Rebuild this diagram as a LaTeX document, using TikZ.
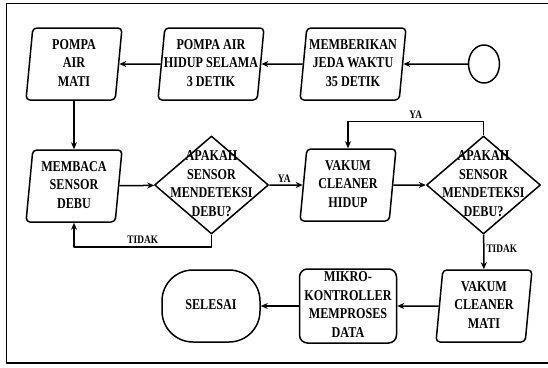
\documentclass[tikz,border=0pt]{standalone}
\usepackage{fontspec}
\setmainfont[FakeStretch=0.81]{Liberation Serif}
\usetikzlibrary{shapes.geometric,arrows.meta}
\newcommand{\boxtxt}[1]{\makebox[0pt]{\begin{tabular}{@{}c@{}}#1\end{tabular}}}

\begin{document}
\begin{tikzpicture}[x=1pt,y=-1pt,line join=round,>={Stealth[length=7pt,width=6pt]},
    big/.style={font=\bfseries\fontsize{15}{18.5}\selectfont},
    io/.style={big,trapezium,trapezium left angle=83,trapezium right angle=97,trapezium stretches body=true,draw,line width=1.5pt,rounded corners=4pt,inner sep=0pt,minimum width=96pt,minimum height=72pt},
    dec/.style={big,diamond,draw,line width=1.5pt,inner sep=0pt,minimum width=114pt,minimum height=98pt},
    proc/.style={big,rectangle,draw,line width=1.5pt,rounded corners=8pt,inner sep=0pt,minimum width=97pt,minimum height=72pt},
    term/.style={big,rectangle,draw,line width=1.5pt,rounded corners=31pt,inner sep=0pt,minimum width=98pt,minimum height=72pt},
    flow/.style={->,line width=1.5pt},
    lbl/.style={font=\bfseries\fontsize{11.5}{12}\selectfont,inner sep=2pt}]
    \useasboundingbox (0,0) rectangle (548,367);
    \draw[line width=1.6pt] (6.5,3.5) rectangle (551,363);

    \node[ellipse,draw,line width=1.5pt,minimum width=31pt,minimum height=38pt,inner sep=0pt] (start) at (484,64) {};
    \node[io,minimum width=106pt] (jeda) at (353,64) {\boxtxt{MEMBERIKAN\\JEDA WAKTU\\35 DETIK}};
    \node[io,minimum width=106pt] (hidup) at (211,64) {\boxtxt{POMPA AIR\\HIDUP SELAMA\\3 DETIK}};
    \node[io] (mati) at (74,64) {\boxtxt{POMPA\\AIR\\MATI}};

    \node[io] (baca) at (74,186) {\boxtxt{MEMBACA\\SENSOR\\DEBU}};
    \node[dec] (d1) at (211.5,185) {\boxtxt{APAKAH\\SENSOR\\MENDETEKSI\\DEBU?}};
    \node[io] (vhidup) at (348,185) {\boxtxt{VAKUM\\CLEANER\\HIDUP}};
    \node[dec] (d2) at (483.5,185) {\boxtxt{APAKAH\\SENSOR\\MENDETEKSI\\DEBU?}};

    \node[io] (vmati) at (484,306) {\boxtxt{VAKUM\\CLEANER\\MATI}};
    \node[proc] (mikro) at (348,306) {\boxtxt{MIKRO-\\KONTROLLER\\MEMPROSES\\DATA}};
    \node[term] (selesai) at (211,306) {\boxtxt{SELESAI}};

    \draw[flow] (start) -- (jeda);
    \draw[flow] (jeda) -- (hidup);
    \draw[flow] (hidup) -- (mati);
    \draw[flow] (mati) -- (baca);
    \draw[flow] (baca) -- (d1);
    \draw[flow] (d1) -- node[lbl,above,pos=0.45] {YA} (vhidup);
    \draw[flow] (d1.south) -- ++(0,12) -| node[lbl,above,pos=0.25] {TIDAK} (baca.south);
    \draw[flow] (vhidup) -- (d2);
    \draw[flow] (d2.north) -- ++(0,-14) -| node[lbl,above,pos=0.25] {YA} (vhidup.north);
    \draw[flow] (d2) -- node[lbl,right,pos=0.4] {TIDAK} (vmati);
    \draw[flow] (vmati) -- (mikro);
    \draw[flow] (mikro) -- (selesai);
\end{tikzpicture}
\end{document}
